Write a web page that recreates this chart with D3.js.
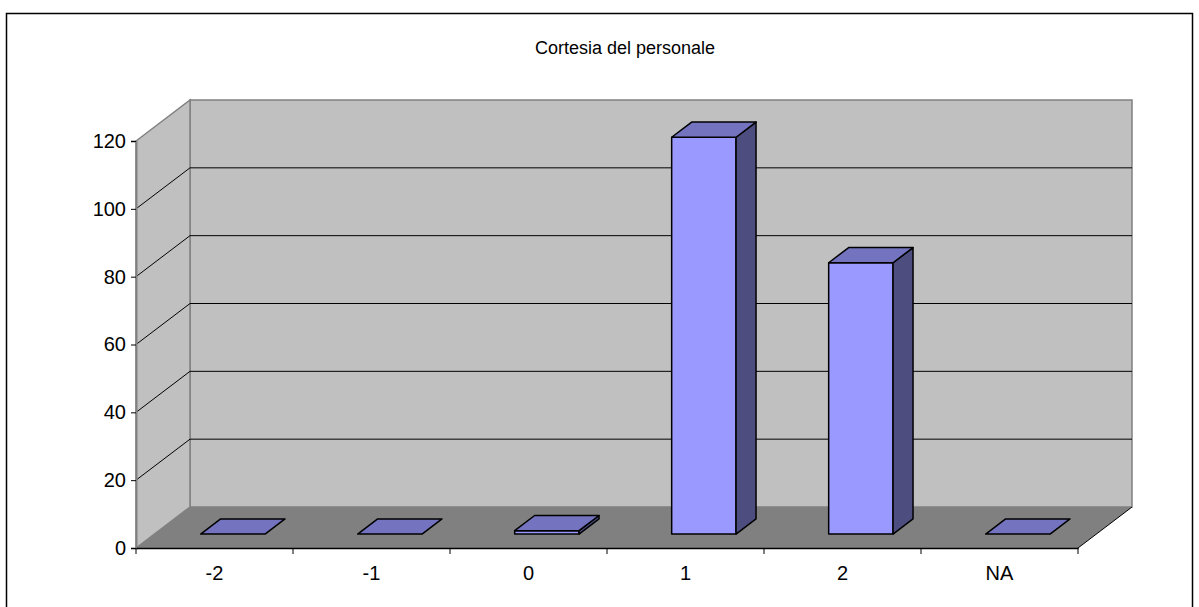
<!DOCTYPE html>
<html>
<head>
<meta charset="utf-8">
<script src="https://cdn.jsdelivr.net/npm/d3@7"></script>
<style>
  html, body { margin: 0; padding: 0; background: #fff; }
  svg { display: block; font-family: "Liberation Sans", Arial, sans-serif; }
</style>
</head>
<body>
<svg id="chart" width="1199" height="607"></svg>
<script>
// Data
const title = "Cortesia del personale";
const categories = ["-2", "-1", "0", "1", "2", "NA"];
const values = [0, 0, 1, 117, 80, 0];
const yTicks = [0, 20, 40, 60, 80, 100, 120];

const svg = d3.select("#chart");

// Plot frame (front plane) and depth offset of the 3D box
const plotLeft = 136, plotRight = 1078, plotBottom = 548, plotTop = 141;
const depthX = 54, depthY = -41;
// Bars sit between these fractions of the depth
const barFront = 0.34, barBack = 0.71;

const x = d3.scaleBand().domain(categories).range([plotLeft, plotRight]).paddingInner(0).paddingOuter(0);
const y = d3.scaleLinear().domain([0, 120]).range([plotBottom, plotTop]);

// Outer border
svg.append("rect")
  .attr("x", 6.5).attr("y", 13.5)
  .attr("width", 1186).attr("height", 600)
  .attr("fill", "#fff").attr("stroke", "#000").attr("stroke-width", 1.5);

// Title
svg.append("text")
  .attr("x", 625).attr("y", 54)
  .attr("text-anchor", "middle")
  .attr("font-size", 18)
  .attr("fill", "#000")
  .text(title);

const poly = pts => pts.map(p => p.join(",")).join(" ");

// Back wall
svg.append("polygon")
  .attr("points", poly([
    [plotLeft + depthX, y(120) + depthY], [plotRight + depthX, y(120) + depthY],
    [plotRight + depthX, y(0) + depthY], [plotLeft + depthX, y(0) + depthY]
  ]))
  .attr("fill", "#c0c0c0").attr("stroke", "#808080").attr("stroke-width", 1.5);

// Side wall
svg.append("polygon")
  .attr("points", poly([
    [plotLeft, y(0)], [plotLeft, y(120)],
    [plotLeft + depthX, y(120) + depthY], [plotLeft + depthX, y(0) + depthY]
  ]))
  .attr("fill", "#c0c0c0").attr("stroke", "#808080").attr("stroke-width", 1.5);

// Gridlines on walls
const grid = yTicks.filter(v => v > 0 && v < 120);
svg.append("g").selectAll("line").data(grid).join("line")
  .attr("x1", plotLeft + depthX).attr("x2", plotRight + depthX)
  .attr("y1", d => y(d) + depthY).attr("y2", d => y(d) + depthY)
  .attr("stroke", "#000").attr("stroke-width", 1);
svg.append("g").selectAll("line").data(grid).join("line")
  .attr("x1", plotLeft).attr("x2", plotLeft + depthX)
  .attr("y1", d => y(d)).attr("y2", d => y(d) + depthY)
  .attr("stroke", "#000").attr("stroke-width", 1);

// Floor
svg.append("polygon")
  .attr("points", poly([
    [plotLeft, y(0)], [plotRight, y(0)],
    [plotRight + depthX, y(0) + depthY], [plotLeft + depthX, y(0) + depthY]
  ]))
  .attr("fill", "#808080").attr("stroke", "none");
svg.append("line")
  .attr("x1", plotRight).attr("y1", y(0))
  .attr("x2", plotRight + depthX).attr("y2", y(0) + depthY)
  .attr("stroke", "#000").attr("stroke-width", 1);

// Bars
const bw = x.bandwidth() * 0.41;
const fx = barFront * depthX, fy = barFront * depthY;
const dX = (barBack - barFront) * depthX, dY = (barBack - barFront) * depthY;

const bars = svg.append("g").selectAll("g").data(categories.map((c, i) => ({ c, v: values[i] }))).join("g");
bars.each(function (d) {
  const g = d3.select(this);
  const x0 = x(d.c) + (x.bandwidth() - bw) / 2 + fx;
  const x1 = x0 + bw;
  const yb = y(0) + fy;
  const yt = y(d.v) + fy;
  if (d.v > 0) {
    // front face
    g.append("polygon")
      .attr("points", poly([[x0, yb], [x1, yb], [x1, yt], [x0, yt]]))
      .attr("fill", "#9999ff").attr("stroke", "#000").attr("stroke-width", 1.5).attr("stroke-linejoin", "round");
    // side face
    g.append("polygon")
      .attr("points", poly([[x1, yb], [x1 + dX, yb + dY], [x1 + dX, yt + dY], [x1, yt]]))
      .attr("fill", "#4d4d80").attr("stroke", "#000").attr("stroke-width", 1.5).attr("stroke-linejoin", "round");
  }
  // top face
  g.append("polygon")
    .attr("points", poly([[x0, yt], [x1, yt], [x1 + dX, yt + dY], [x0 + dX, yt + dY]]))
    .attr("fill", "#7373bf").attr("stroke", "#000").attr("stroke-width", 1.5).attr("stroke-linejoin", "round");
});

// Y axis
const yAxis = svg.append("g")
  .attr("transform", `translate(${plotLeft},0)`)
  .call(d3.axisLeft(y).tickValues(yTicks).tickSize(5).tickPadding(5));
yAxis.select(".domain").attr("stroke", "#808080").attr("stroke-width", 2);
yAxis.selectAll(".tick line").attr("stroke", "#000");
yAxis.selectAll(".tick text")
  .attr("font-size", 20).attr("font-family", "Liberation Sans, Arial, sans-serif").attr("fill", "#000");

// X axis
const xAxis = svg.append("g")
  .attr("transform", `translate(0,${plotBottom})`)
  .call(d3.axisBottom(x).tickSize(0).tickPadding(18));
xAxis.select(".domain").attr("stroke", "#000").attr("stroke-width", 1.5);
xAxis.selectAll(".tick text")
  .attr("font-size", 20).attr("font-family", "Liberation Sans, Arial, sans-serif").attr("fill", "#000");
// Category separators
const bounds = categories.map(c => x(c)).concat([plotRight]);
svg.append("g").selectAll("line").data(bounds).join("line")
  .attr("x1", d => d).attr("x2", d => d)
  .attr("y1", plotBottom).attr("y2", plotBottom + 6)
  .attr("stroke", "#000").attr("stroke-width", 1);
</script>
</body>
</html>
